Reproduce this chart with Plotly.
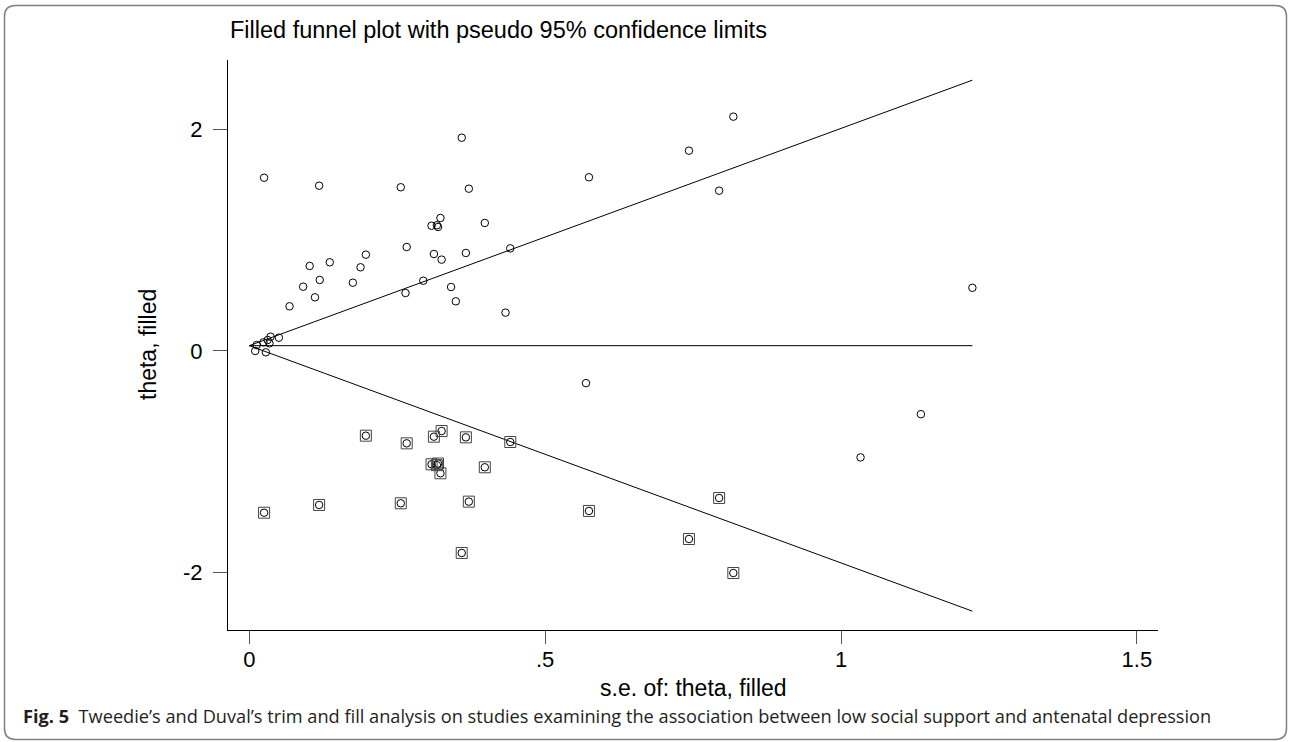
import plotly.graph_objects as go

# ---- data ----
obs_se = [0.359, 0.025, 0.118, 0.256, 0.371, 0.323, 0.308, 0.317, 0.319, 0.398,
          0.266, 0.312, 0.325, 0.366, 0.441, 0.197, 0.188, 0.136, 0.102, 0.119,
          0.091, 0.111, 0.068, 0.175, 0.294, 0.264, 0.341, 0.349, 0.433, 0.050,
          0.036, 0.031, 0.024, 0.034, 0.0125, 0.010, 0.028, 0.818, 0.743, 0.574,
          0.794, 1.222, 0.569, 1.135, 1.033]
obs_theta = [1.924, 1.563, 1.491, 1.477, 1.464, 1.200, 1.130, 1.134, 1.119, 1.155,
             0.938, 0.875, 0.824, 0.884, 0.926, 0.869, 0.755, 0.800, 0.767, 0.641,
             0.580, 0.484, 0.403, 0.616, 0.634, 0.523, 0.577, 0.448, 0.346, 0.120,
             0.129, 0.099, 0.078, 0.069, 0.054, 0.000, -0.012, 2.114, 1.807, 1.567,
             1.446, 0.570, -0.290, -0.570, -0.960]

fill_se = [0.197, 0.266, 0.312, 0.325, 0.366, 0.441, 0.308, 0.317, 0.319, 0.323,
           0.398, 0.025, 0.118, 0.256, 0.371, 0.359, 0.794, 0.574, 0.743, 0.818]
fill_theta = [-0.764, -0.833, -0.773, -0.722, -0.779, -0.821, -1.022, -1.030, -1.015, -1.103,
              -1.049, -1.459, -1.389, -1.374, -1.359, -1.822, -1.326, -1.443, -1.696, -2.003]

ci_se = [0.0, 1.222]
ci_upper = [0.048, 2.443]
ci_lower = [0.048, -2.347]
pooled = [0.048, 0.048]

x_ticks = [0, 0.5, 1, 1.5]
x_ticklabels = ["0", ".5", "1", "1.5"]
y_ticks = [-2, 0, 2]
y_ticklabels = ["-2", "0", "2"]

title_text = "Filled funnel plot with pseudo 95% confidence limits"
x_title = "s.e. of: theta, filled"
y_title = "theta, filled"
caption = ("<b>Fig. 5</b>  Tweedie\u2019s and Duval\u2019s trim and fill analysis on studies "
           "examining the association between low social support and antenatal depression")

# ---- layout geometry (pixels) ----
W, H = 1290, 742
L, R, T, B = 228, 132, 60, 112
PW, PH = W - L - R, H - T - B


def px_to_paper(px, py):
    return (px - L) / PW, (H - B - py) / PH


def rounded_rect_path(x0, y0, x1, y1, r):
    def P(px, py):
        a, b = px_to_paper(px, py)
        return f"{a:.5f},{b:.5f}"
    return (f"M {P(x0 + r, y0)} L {P(x1 - r, y0)} Q {P(x1, y0)} {P(x1, y0 + r)} "
            f"L {P(x1, y1 - r)} Q {P(x1, y1)} {P(x1 - r, y1)} "
            f"L {P(x0 + r, y1)} Q {P(x0, y1)} {P(x0, y1 - r)} "
            f"L {P(x0, y0 + r)} Q {P(x0, y0)} {P(x0 + r, y0)} Z")


FONT = "Liberation Sans, Arial, sans-serif"
CAP_FONT = "Open Sans, Liberation Sans, sans-serif"

fig = go.Figure()
line_style = dict(color="black", width=1)
fig.add_trace(go.Scatter(x=ci_se, y=ci_upper, mode="lines", line=line_style, hoverinfo="skip"))
fig.add_trace(go.Scatter(x=ci_se, y=ci_lower, mode="lines", line=line_style, hoverinfo="skip"))
fig.add_trace(go.Scatter(x=ci_se, y=pooled, mode="lines", line=line_style, hoverinfo="skip"))

circle = dict(symbol="circle-open", size=7.5, color="black", line=dict(width=1))
fig.add_trace(go.Scatter(x=obs_se, y=obs_theta, mode="markers", marker=circle))
fig.add_trace(go.Scatter(x=fill_se, y=fill_theta, mode="markers", marker=circle))
fig.add_trace(go.Scatter(x=fill_se, y=fill_theta, mode="markers",
                         marker=dict(symbol="square-open", size=11, color="#444",
                                     line=dict(width=1))))

fig.update_layout(
    width=W, height=H,
    margin=dict(l=L, r=R, t=T, b=B, autoexpand=False),
    paper_bgcolor="white", plot_bgcolor="white",
    showlegend=False,
    font=dict(family=FONT, color="black"),
)
fig.update_xaxes(
    range=[-0.036, 1.5357], showgrid=False, zeroline=False,
    showline=True, linecolor="black", linewidth=1,
    ticks="outside", ticklen=13, tickcolor="#555", tickwidth=1,
    tickvals=x_ticks, ticktext=x_ticklabels, tickfont=dict(size=22, family=FONT),
    ticklabelstandoff=-3,
)
fig.update_yaxes(
    range=[-2.517, 2.625], showgrid=False, zeroline=False,
    showline=True, linecolor="black", linewidth=1,
    ticks="outside", ticklen=14, tickcolor="#555", tickwidth=1,
    tickvals=y_ticks, ticktext=y_ticklabels, tickfont=dict(size=22, family=FONT),
    ticklabelstandoff=6,
)

annos = []
tx, ty = px_to_paper(228, 30)
annos.append(dict(text=title_text, x=tx, y=ty, xref="paper", yref="paper",
                  xanchor="left", yanchor="middle", showarrow=False,
                  font=dict(size=23.5, family=FONT, color="black")))
ax_, ay_ = px_to_paper(693, 688)
annos.append(dict(text=x_title, x=ax_, y=ay_, xref="paper", yref="paper",
                  xanchor="center", yanchor="middle", showarrow=False,
                  font=dict(size=23, family=FONT, color="black")))
bx, by = px_to_paper(148, 345)
annos.append(dict(text=y_title, x=bx, y=by, xref="paper", yref="paper", textangle=-90,
                  xanchor="center", yanchor="middle", showarrow=False,
                  font=dict(size=23, family=FONT, color="black")))
cx, cy = px_to_paper(21, 716)
annos.append(dict(text=caption, x=cx, y=cy, xref="paper", yref="paper",
                  xanchor="left", yanchor="middle", showarrow=False,
                  font=dict(size=18.2, family=CAP_FONT, color="#231f20")))
fig.update_layout(annotations=annos)

fig.add_shape(type="path", xref="paper", yref="paper",
              path=rounded_rect_path(4.5, 5.5, 1286.5, 739.5, 11),
              line=dict(color="#808080", width=1.5), layer="below")

fig.write_html("out.html", config={"displayModeBar": False},
               post_script="document.body.style.margin='0';document.body.style.overflow='hidden';")
